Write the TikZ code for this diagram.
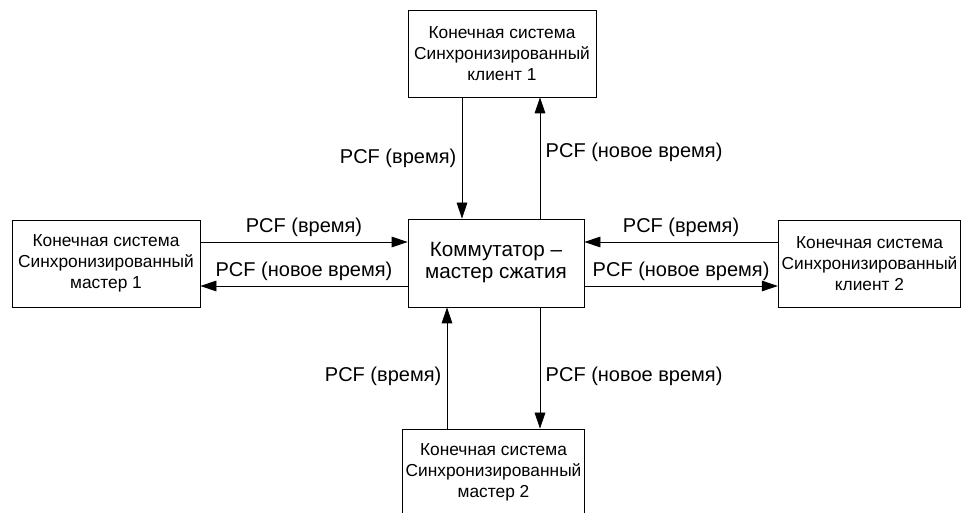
\documentclass[tikz,border=0pt]{standalone}
\usepackage{fontspec}
\setmainfont{Liberation Sans}
\usetikzlibrary{arrows.meta}
\begin{document}
\begin{tikzpicture}[x=0.75pt, y=-0.75pt,
        endsys/.style={draw, line width=0.6pt, minimum width=141pt, minimum height=65.25pt,
            inner sep=0pt, align=center, font=\fontsize{13}{15.5}\selectfont},
        pcf/.style={line width=0.6pt, -{Triangle[length=12pt, width=8pt]}},
        lbl/.style={font=\fontsize{15}{18}\selectfont, inner sep=4pt}]
                \useasboundingbox (0, 0) rectangle (961, 513);
                \clip (0, 0) rectangle (961, 513);
                % switch in the middle
                \node[endsys, minimum width=132pt, minimum height=66pt,
                    font=\fontsize{15.5}{16.5}\selectfont] (hub) at (496, 263)
                    {Коммутатор --\\мастер сжатия};
                \node[endsys] (client1) at (502, 53.5)
                    {Конечная система\\Синхронизированный\\клиент 1};
                \node[endsys] (master1) at (106, 263.5)
                    {Конечная система\\Синхронизированный\\мастер 1};
                \node[endsys, minimum width=137pt] (client2) at (869.5, 263.5)
                    {Конечная система\\Синхронизированный\\клиент 2};
                \node[endsys, minimum width=137pt] (master2) at (493.5, 472.5)
                    {Конечная система\\Синхронизированный\\мастер 2};
                % top
                \draw[pcf] (client1.south -| 462, 0) -- (hub.north -| 462, 0)
                    node[lbl, midway, left] (t1) {PCF (время)};
                \draw[pcf] (hub.north -| 540, 0) -- (client1.south -| 540, 0)
                    node[lbl, pos=0.55, right] (t2) {PCF (новое время)};
                % left
                \draw[pcf] (master1.east |- 0, 242) -- (hub.west |- 0, 242)
                    node[lbl, midway, above] (l1) {PCF (время)};
                \draw[pcf] (hub.west |- 0, 286) -- (master1.east |- 0, 286)
                    node[lbl, midway, above] (l2) {PCF (новое время)};
                % right
                \draw[pcf] (client2.west |- 0, 242) -- (hub.east |- 0, 242)
                    node[lbl, midway, above] (r1) {PCF (время)};
                \draw[pcf] (hub.east |- 0, 286) -- (client2.west |- 0, 286)
                    node[lbl, midway, above] (r2) {PCF (новое время)};
                % bottom
                \draw[pcf] (master2.north -| 447, 0) -- (hub.south -| 447, 0)
                    node[lbl, pos=0.43, left] (b1) {PCF (время)};
                \draw[pcf] (hub.south -| 540, 0) -- (master2.north -| 540, 0)
                    node[lbl, pos=0.57, right] (b2) {PCF (новое время)};
\end{tikzpicture}
\end{document}
